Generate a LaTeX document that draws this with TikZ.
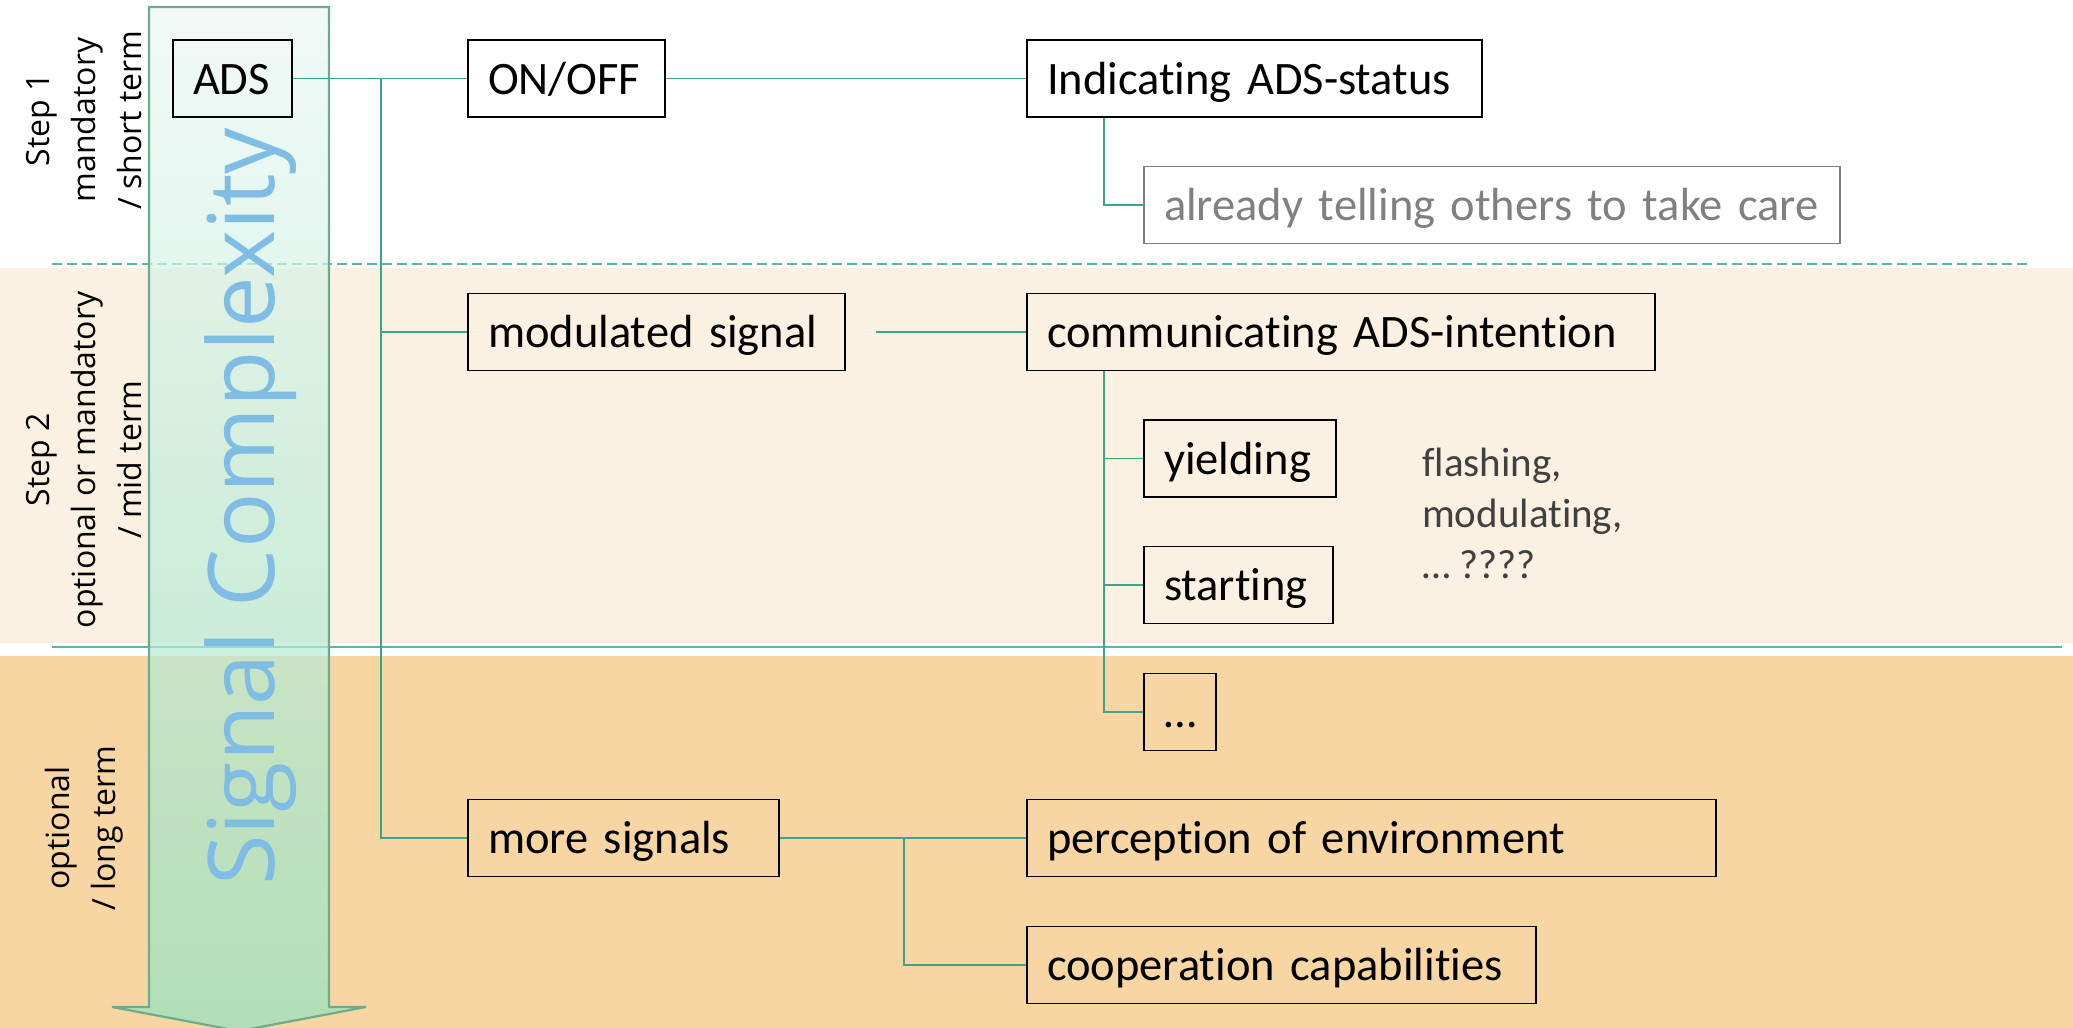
\documentclass[tikz,border=0pt]{standalone}
\usepackage{fontspec}
\setmainfont{Carlito}[Ligatures={NoCommon}]
\newfontfamily\osans{Open Sans}
\usetikzlibrary{calc}
\definecolor{pale}{RGB}{251,241,227}
\definecolor{orng}{RGB}{248,214,163}
\definecolor{conn}{RGB}{58,165,138}
\definecolor{sepc}{RGB}{90,182,162}
\definecolor{arrowedge}{RGB}{108,172,140}
\definecolor{arrtop}{RGB}{236,248,244}
\definecolor{arrbot}{RGB}{149,227,193}
\definecolor{bigblue}{RGB}{127,189,229}
\definecolor{grtext}{RGB}{128,128,128}
\definecolor{dk}{RGB}{64,64,64}
\begin{document}
\begin{tikzpicture}[x=1pt,y=-1pt,
 box/.style={draw=black, line width=1.8pt, inner xsep=20pt, inner ysep=0pt, minimum height=77pt, text height=36pt, text depth=5pt, align=left, font=\fontsize{46.5}{56}\selectfont},
 graybox/.style={box, draw=grtext, text=grtext},
 link/.style={draw=conn, line width=1.8pt},
 steplabel/.style={rotate=90, align=center, inner sep=0pt, font=\osans\fontsize{32}{46}\selectfont},
]
\useasboundingbox (0,0) rectangle (2073,1028);
% bands
\fill[pale] (0,268) rectangle (2073,643);
\fill[orng] (0,656) rectangle (2073,1028);
% separators
\draw[sepc, dash pattern=on 10pt off 5pt, line width=1.8pt] (52,264) -- (2027,264);
\draw[sepc, line width=1.8pt] (52,647) -- (2062,647);
% big arrow
\path[top color=arrtop, bottom color=arrbot, fill opacity=0.7]
  (149,7) -- (329,7) -- (329,1007) -- (366,1007) -- (239,1031) -- (112,1007) -- (149,1007) -- cycle;
\draw[arrowedge, line width=2.2pt, line join=miter]
  (149,7) -- (329,7) -- (329,1007) -- (366,1007) -- (239,1031) -- (112,1007) -- (149,1007) -- cycle;
\node[rotate=90, anchor=base, text=bigblue, font=\osans\fontsize{92}{100}\selectfont, inner sep=0pt] (sc) at (274,507) {Signal Complexity};
% left labels
\node[steplabel] (s1) at (84,120) {Step 1\\mandatory\\/ short term};
\node[steplabel] (s2) at (84,460) {Step 2\\optional or mandatory\\/ mid term};
\node[steplabel] (s3) at (84,828) {optional\\/ long term};
% boxes
\node[box, text width=79pt] (ads) at (232.5,78.5) {ADS};
\node[box, text width=157pt] (onoff) at (566.5,78.5) {ON/OFF};
\node[box, text width=415pt] (ind) at (1254.5,78.5) {Indicating ADS-status};
\node[graybox, text width=656pt] (already) at (1492,205) {\mbox{already telling others to take care}};
\node[box, text width=337pt] (mod) at (656.5,332) {modulated signal};
\node[box, text width=588pt] (comm) at (1341,332) {communicating ADS-intention};
\node[box, text width=152pt] (yield) at (1240,458.5) {yielding};
\node[box, text width=149pt] (start) at (1238.5,585) {starting};
\node[box, text width=32pt] (dots) at (1180,712) {…};
\node[box, text width=271pt] (more) at (623.5,838) {more signals};
\node[box, text width=649pt] (perc) at (1371.5,838) {perception of environment};
\node[box, text width=469pt] (coop) at (1281.5,965) {cooperation capabilities};
\node[anchor=north west, align=left, text=dk, inner sep=0pt, font=\fontsize{41}{51}\selectfont] (notes) at (1422,448) {flashing,\\modulating,\\… ????};
% connectors
\coordinate (t1) at (381,78.5);
\draw[link] (ads.east) -- (t1) |- (more.west);
\draw[link] (t1) -- (onoff.west);
\draw[link] (t1) |- (mod.west);
\draw[link] (onoff.east) -- (ind.west);
\draw[link] ([xshift=78pt]ind.south west) |- (already.west);
\draw[link] ([xshift=30pt]mod.east) -- (comm.west);
\draw[link] ([xshift=78pt]comm.south west) |- (dots.west);
\draw[link] ([xshift=78pt]comm.south west) |- (yield.west);
\draw[link] ([xshift=78pt]comm.south west) |- (start.west);
\draw[link] (more.east) -- (perc.west);
\draw[link] (more.east) -- ++(124,0) |- (coop.west);
\end{tikzpicture}
\end{document}
